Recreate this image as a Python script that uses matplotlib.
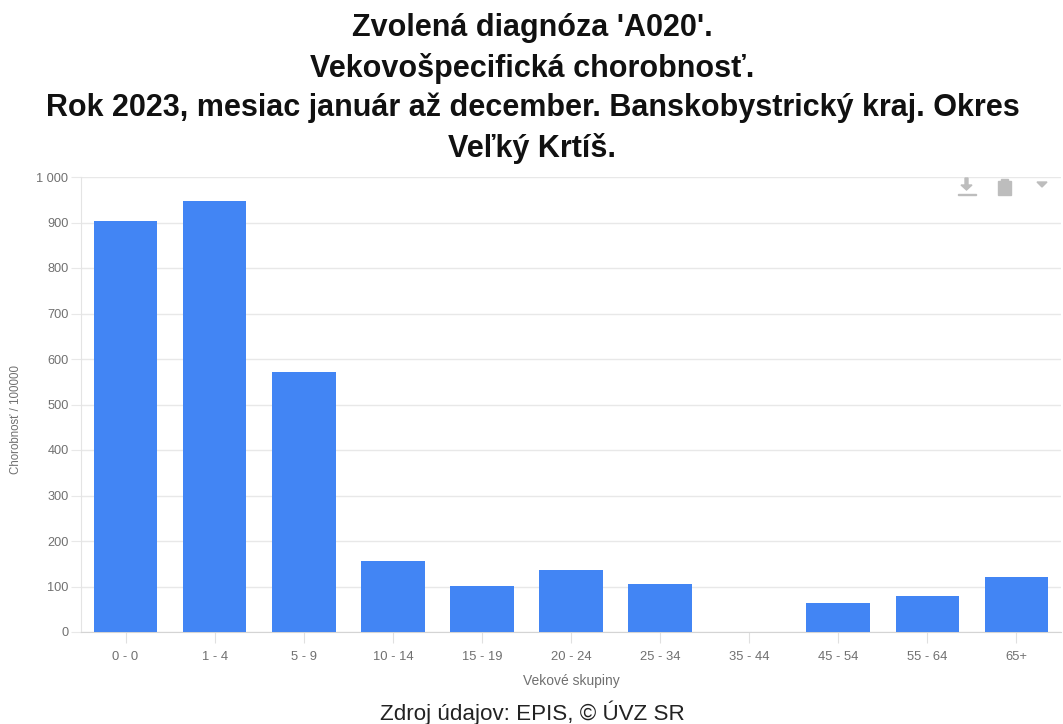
import matplotlib
matplotlib.use("Agg")
import matplotlib.pyplot as plt
from matplotlib.patches import Rectangle, Polygon

categories = ["0 - 0", "1 - 4", "5 - 9", "10 - 14", "15 - 19", "20 - 24", "25 - 34", "35 - 44", "45 - 54", "55 - 64", "65+"]
values = [903, 947, 572, 156, 102, 137, 106, 0, 64, 80, 120]
y_ticks = [0, 100, 200, 300, 400, 500, 600, 700, 800, 900, 1000]
y_labels = ["0", "100", "200", "300", "400", "500", "600", "700", "800", "900", "1 000"]
title_lines = ["Zvolená diagnóza 'A020'.", "Vekovošpecifická chorobnosť.",
               "Rok 2023, mesiac január až december. Banskobystrický kraj. Okres", "Veľký Krtíš."]
title_y = [28, 68, 108, 149]

W, H = 1063, 724
plt.rcParams['font.family'] = ['Liberation Sans', 'DejaVu Sans']
fig = plt.figure(figsize=(W/100, H/100), dpi=100)
L, R, T, B = 81, 1061, 177, 632
ax = fig.add_axes([L/W, 1-B/H, (R-L)/W, (B-T)/H])
ax.bar(range(len(values)), values, width=0.715, color="#4285f4", zorder=3)
ax.set_xlim(-0.5, len(values)-0.5)
ax.set_ylim(0, 1000)
ax.set_yticks(y_ticks)
ax.set_yticklabels(y_labels)
ax.set_xticks(range(len(categories)))
ax.set_xticklabels(categories)
ax.grid(axis='y', color="#e8e8e8", lw=1, zorder=0)
ax.set_axisbelow(True)
for s in ('top', 'right'):
    ax.spines[s].set_visible(False)
ax.spines['left'].set_color("#e4e4e4")
ax.spines['bottom'].set_color("#d4d4d4")
ax.tick_params(axis='y', length=7, color="#e8e8e8", labelcolor="#707070", labelsize=9.2, pad=2)
ax.tick_params(axis='x', length=8, color="#e0e0e0", labelcolor="#707070", labelsize=9.4, pad=6)
fig.text(16.5/W, 1-419/H, "Chorobnosť / 100000", rotation=90, ha='center', va='center', fontsize=8.3, color="#707070")
fig.text(571/W, 1-681/H, "Vekové skupiny", ha='center', va='center', fontsize=10, color="#707070")
for line, y in zip(title_lines, title_y):
    fig.text(532.5/W, 1-y/H, line, ha='center', va='center', fontsize=22, fontweight='bold', color="#111111")
fig.text(532.5/W, 1-713/H, "Zdroj údajov: EPIS, © ÚVZ SR", ha='center', va='center', fontsize=16.1, color="#222222")

# toolbox icons (figure pixel coordinates)
def px(x, y):
    return (x/W, 1-y/H)
g = "#bdbdbd"
tf = fig.transFigure
fig.add_artist(Polygon([px(x, y) for x, y in [(965,178),(968,178),(968,185),(972,185),(966.5,190),(961,185),(965,185)]], closed=True, color=g, transform=tf))
fig.add_artist(Rectangle(px(958,195), 17.5/W, 1.4/H, color=g, transform=tf))
fig.add_artist(Rectangle(px(998,195), 13/W, 14/H, color=g, transform=tf))
fig.add_artist(Rectangle(px(1001,181.5), 7/W, 3/H, color=g, transform=tf))
fig.add_artist(Polygon([px(x, y) for x, y in [(1037,182),(1047,182),(1042,187)]], closed=True, color=g, transform=tf))
fig.savefig("out.png", dpi=100)
